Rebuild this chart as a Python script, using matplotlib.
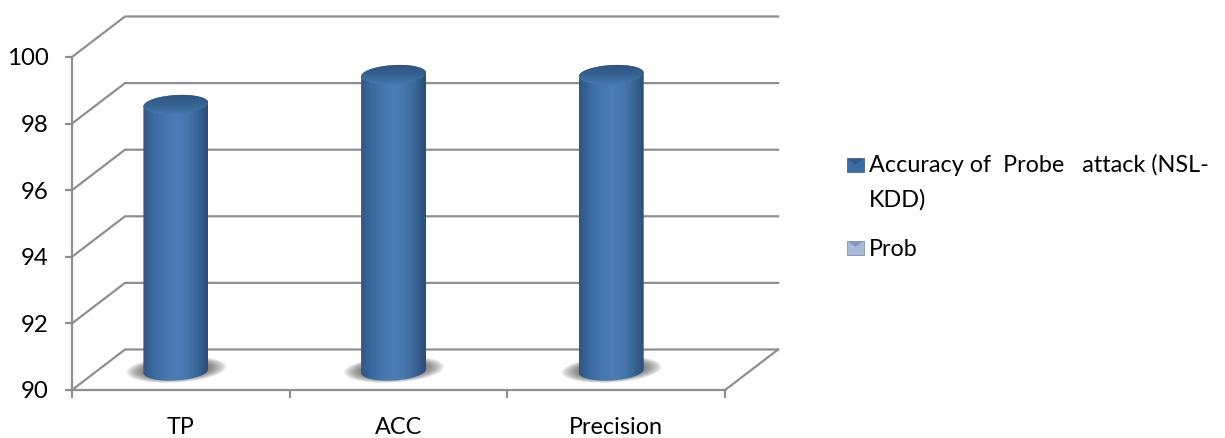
import numpy as np
import matplotlib
matplotlib.use("Agg")
import matplotlib.pyplot as plt
from matplotlib.patches import Polygon, Rectangle, Patch
from matplotlib.colors import LinearSegmentedColormap
from matplotlib.legend_handler import HandlerBase

categories = ["TP", "ACC", "Precision"]
values = [98, 98.9, 98.9]
y_ticks = [90, 92, 94, 96, 98, 100]
series_names = ["Accuracy of  Probe   attack (NSL-\nKDD)", "Prob"]

plt.rcParams["font.family"] = ["Lato", "DejaVu Sans"]
W, H = 1225, 438
fig = plt.figure(figsize=(W / 100, H / 100), dpi=100, facecolor="white")

# axes box in pixels: front wall origin at (72, 390), top of chart at y=16
L, R, T, B = 72, 780, 16, 390
ax = fig.add_axes([L / W, 1 - B / H, (R - L) / W, (B - T) / H])
PX = 217.7   # px per category
PY = 33.3    # px per value unit
ax.set_xlim(-0.5, -0.5 + (R - L) / PX)
ax.set_ylim(90, 90 + (B - T) / PY)
ax.patch.set_visible(False)
dx, dy = 53 / PX, 40.5 / PY
GRID = "#8f8f8f"
LW = 1.6

for s in ("top", "right"):
    ax.spines[s].set_visible(False)
for s in ("left", "bottom"):
    ax.spines[s].set_color(GRID)
    ax.spines[s].set_linewidth(LW)
ax.spines["left"].set_bounds(90, 100)
ax.spines["bottom"].set_bounds(-0.5, 2.5)

ax.set_yticks(y_ticks)
ax.tick_params(axis="y", length=5, width=LW, color=GRID, pad=12, labelsize=17.3, labelcolor="black")
ax.set_xticks([-0.5, 0.5, 1.5, 2.5])
ax.set_xticklabels([])
ax.tick_params(axis="x", which="major", length=6, width=LW, color=GRID)
ax.set_xticks(range(len(categories)), categories, minor=True)
ax.tick_params(axis="x", which="minor", length=0, pad=19.7, labelsize=16.8, labelcolor="black")

x0, x1 = -0.5, 2.5
for v in y_ticks:
    ax.plot([x0, x0 + dx, x1 + dx], [v, v + dy, v + dy],
            color=GRID, lw=LW, zorder=1, solid_joinstyle="miter", clip_on=False)
ax.plot([x1, x1 + dx], [90, 90 + dy], color=GRID, lw=LW, zorder=1, clip_on=False)

body_cmap = LinearSegmentedColormap.from_list(
    "body", ["#2f5786", "#3a6aa0", "#4676ae", "#4b7cb4", "#4878ae", "#3a6699", "#2c4c74"])
top_cmap = LinearSegmentedColormap.from_list(
    "top", ["#2f5480", "#33598a", "#386391", "#3f70a6", "#4a7fb8"])

HW, HH, TILT = 32.5, 9.5, np.deg2rad(3.5)
CX_OFF = -5 / PX
LIFT = 19 / PY      # mid-depth shift of the cylinders on the floor
BASE = 90 + LIFT


def ellipse(cx, cy, hw=HW, hh=HH, t0=0.0, t1=2 * np.pi, n=80):
    t = np.linspace(t0, t1, n)
    ex, ey = hw * np.cos(t), hh * np.sin(t)
    rx = ex * np.cos(TILT) - ey * np.sin(TILT)
    ry = ex * np.sin(TILT) + ey * np.cos(TILT)
    return np.column_stack([cx + rx / PX, cy + ry / PY])


for i, v in enumerate(values):
    cx = i + CX_OFF
    top = v + LIFT
    # soft floor shadow
    for k in range(14):
        f = 1 - k / 14
        pts = ellipse(cx + 0.5 / PX, BASE + 1.5 / PY, 28 * f + 22, 8 * f + 5)
        ax.add_patch(Polygon(pts, closed=True, fc="#404040", ec="none", alpha=0.1, zorder=2))
    # body
    front = ellipse(cx, BASE, t0=np.pi, t1=2 * np.pi)
    back = ellipse(cx, top, t0=0, t1=np.pi)
    outline = np.vstack([front, back])
    clip = Polygon(outline, closed=True, transform=ax.transData, fc="none", ec="none")
    ax.add_patch(clip)
    hw_d = HW / PX
    im = ax.imshow(np.linspace(0, 1, 128)[None, :], cmap=body_cmap, aspect="auto",
                   extent=[cx - hw_d, cx + hw_d, BASE - 12 / PY, top + 12 / PY], zorder=3)
    im.set_clip_path(clip)
    # cap
    cap = Polygon(ellipse(cx, top), closed=True, transform=ax.transData, fc="none", ec="none")
    ax.add_patch(cap)
    im2 = ax.imshow(np.linspace(1, 0, 64)[:, None], cmap=top_cmap, aspect="auto",
                    extent=[cx - hw_d, cx + hw_d, top - 12 / PY, top + 12 / PY],
                    zorder=4, origin="lower")
    im2.set_clip_path(cap)

ax.set_xlim(-0.5, -0.5 + (R - L) / PX)
ax.set_ylim(90, 90 + (B - T) / PY)


class BevelHandler(HandlerBase):
    def __init__(self, dark, mid, light, shift=0.0):
        super().__init__()
        self.c = (dark, mid, light)
        self.shift = shift

    def create_artists(self, legend, orig, xd, yd, w, h, fs, trans):
        sw, sh = 12.0, 10.0
        x, y = (w - sw) / 2 - xd, (h - sh) / 2 - yd + self.shift
        a = Rectangle((x, y), sw, sh, fc=self.c[1], ec=self.c[0], lw=0.5, transform=trans)
        b = Polygon([(x + .5, y + sh - .5), (x + sw - .5, y + sh - .5), (x + sw / 2, y + sh * 0.55)],
                    closed=True, fc=self.c[2], ec="none", transform=trans)
        return [a, b]


h1, h2 = Patch(label=series_names[0]), Patch(label=series_names[1])
leg = fig.legend(handles=[h1, h2], loc="upper left", bbox_to_anchor=(847 / W, 1 - 154 / H),
                 bbox_transform=fig.transFigure, frameon=False, fontsize=16.8,
                 handlelength=0.73, handletextpad=0.22, labelspacing=1.2,
                 borderpad=0, borderaxespad=0,
                 handler_map={h1: BevelHandler("#2f5480", "#3e6da3", "#33598a", shift=12.5),
                              h2: BevelHandler("#6f85a8", "#a8bbd6", "#8099bd")})
for t in leg.get_texts():
    t.set_color("black")
    t.set_linespacing(1.75)

fig.savefig("out.png", dpi=100, facecolor="white")
